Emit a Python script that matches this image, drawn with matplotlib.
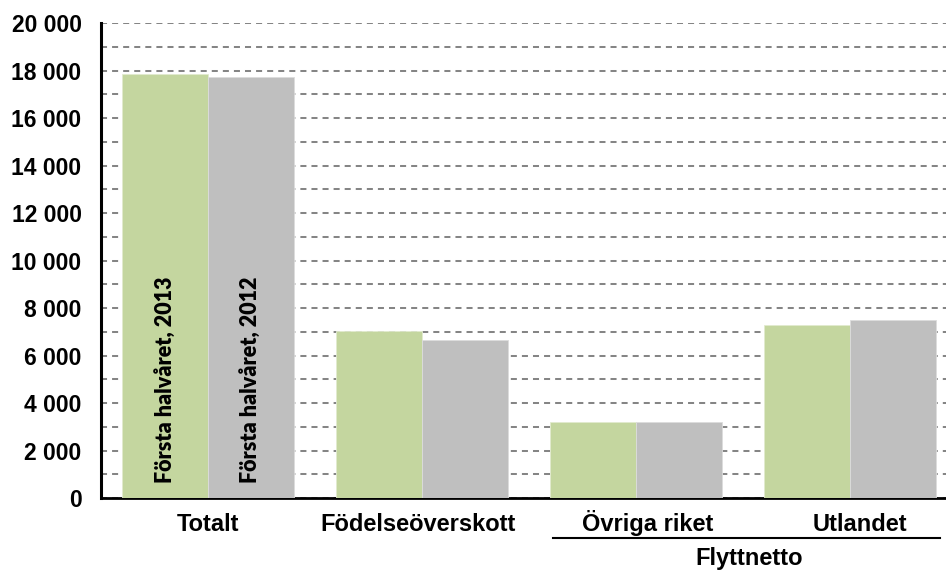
import matplotlib.pyplot as plt
from matplotlib.ticker import MultipleLocator, FuncFormatter
from matplotlib.lines import Line2D
import numpy as np

# Data
categories = ['Totalt', 'Födelseöverskott', 'Övriga riket', 'Utlandet']
h1_2013 = [17850, 7030, 3210, 7280]
h1_2012 = [17730, 6650, 3210, 7490]
series_labels = ['Första halvåret, 2013', 'Första halvåret, 2012']
group_label = 'Flyttnetto'

green = '#C4D69F'
grey = '#BFBFBF'

fig = plt.figure(figsize=(9.46, 5.70), dpi=100)
ax = fig.add_axes([0.1068, 0.1263, 0.8932, 0.8333])

x = np.arange(len(categories))
w = 0.4
bars1 = ax.bar(x - w / 2, h1_2013, w, color=green, edgecolor='#E2EBCF', linewidth=0.6, zorder=3)
bars2 = ax.bar(x + w / 2, h1_2012, w, color=grey, edgecolor='#DCDCDC', linewidth=0.6, zorder=3)

# Series names written vertically inside the "Totalt" bars
for b, lab in zip([bars1[0], bars2[0]], series_labels):
    ax.text(b.get_x() + b.get_width() / 2, 630, lab, rotation=90,
            ha='center', va='bottom', fontsize=15.5, fontweight='heavy',
            family='Lato', color='black', zorder=4)

ax.set_ylim(0, 20000)
ax.set_xlim(-0.5, 3.449)
ax.yaxis.set_major_locator(MultipleLocator(2000))
ax.yaxis.set_minor_locator(MultipleLocator(1000))
ax.yaxis.set_major_formatter(FuncFormatter(lambda v, p: f'{int(v):,}'.replace(',', ' ')))
ax.grid(True, axis='y', which='both', linestyle=(0, (3, 2.5)), color='#858585', linewidth=1.45, zorder=0)
ax.tick_params(axis='y', which='both', length=0, pad=14)
ax.tick_params(axis='x', length=0)
for t in ax.get_yticklabels():
    t.set_fontsize(16.5)
    t.set_fontweight('bold')
    t.set_family('Liberation Sans')

ax.set_xticks([])
for sp in ['top', 'right']:
    ax.spines[sp].set_visible(False)
ax.spines['left'].set_linewidth(2.2)
ax.spines['bottom'].set_linewidth(2.0)

# Category labels (last two are shifted slightly right as in the original)
label_shift = [0, -0.02, 0.056, 0.047]
trans = ax.get_xaxis_transform()
for i, cat in enumerate(categories):
    ax.text(i + label_shift[i], -0.0695, cat, transform=trans,
            ha='center', va='baseline', fontsize=17, fontweight='bold',
            family='Liberation Sans')

# Grouping line and label for the migration categories
ax.add_line(Line2D([1.61, 3.42], [-0.084, -0.084], transform=trans,
                   color='black', linewidth=1.5, clip_on=False))
ax.text(2.53, -0.142, group_label, transform=trans, ha='center', va='baseline',
        fontsize=17, fontweight='bold', family='Liberation Sans')

fig.savefig('out.png', dpi=100)
